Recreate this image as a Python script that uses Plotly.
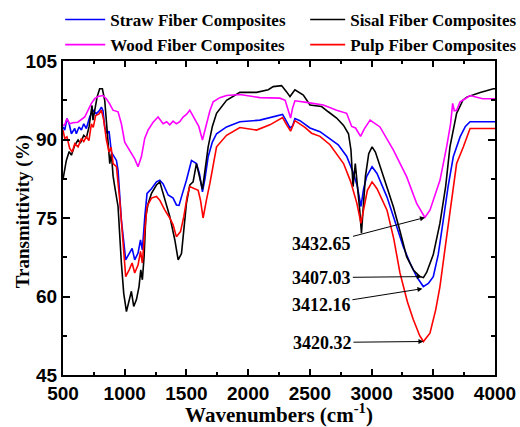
import plotly.graph_objects as go

# ---------------- data ----------------
straw_wn = [500, 514, 532, 550, 568, 595, 608, 630, 649, 668, 689, 716, 743, 770, 797, 811, 824, 838, 857, 873,
            892, 933, 946, 973, 1008, 1036, 1060, 1081, 1108, 1128, 1143, 1163, 1181, 1217, 1257, 1284, 1311, 1352,
            1392, 1419, 1440, 1468, 1500, 1541, 1581, 1605, 1630, 1650, 1676, 1710, 1744, 1825, 1933, 2095, 2203,
            2279, 2312, 2339, 2360, 2379, 2420, 2501, 2582, 2663, 2730, 2798, 2854, 2885, 2914, 2935, 2960, 3004,
            3044, 3125, 3180, 3257, 3310, 3365, 3419, 3460, 3500, 3540, 3581, 3620, 3662, 3717, 3760, 3798, 3900, 4000]
straw_t = [92.4, 91.8, 94.0, 93.0, 91.1, 92.1, 91.1, 92.4, 91.8, 93.0, 92.1, 94.3, 95.6, 94.9, 95.6, 96.2, 95.5, 92.4,
           91.1, 91.6, 87.6, 86.0, 84.1, 74.6, 67.0, 68.3, 69.2, 67.0, 68.3, 70.8, 68.9, 75.3, 79.7, 80.6, 81.9, 82.2,
           81.5, 79.4, 78.8, 77.5, 77.4, 79.7, 82.2, 86.0, 85.4, 83.5, 80.0, 82.5, 86.7, 89.5, 91.1, 92.4, 93.4, 93.7,
           94.4, 94.8, 93.4, 92.2, 92.6, 94.0, 93.6, 92.2, 91.5, 90.2, 89.0, 86.8, 83.5, 81.0, 77.2, 80.5, 82.9, 84.8,
           83.5, 79.0, 75.0, 69.5, 66.5, 63.8, 61.9, 62.5, 63.8, 68.0, 74.6, 81.0, 86.7, 90.5, 92.5, 93.4, 93.4, 93.4]

sisal_wn = [500, 527, 550, 568, 595, 622, 640, 668, 689, 711, 722, 735, 743, 757, 776, 797, 819, 838, 852, 866, 879,
            892, 906, 919, 946, 973, 992, 1014, 1036, 1054, 1073, 1095, 1116, 1130, 1143, 1157, 1171, 1190, 1217, 1257,
            1284, 1325, 1365, 1406, 1433, 1460, 1479, 1500, 1527, 1554, 1581, 1608, 1630, 1650, 1676, 1710, 1744, 1825,
            1933, 2068, 2163, 2203, 2271, 2312, 2339, 2379, 2447, 2501, 2595, 2649, 2717, 2773, 2813, 2833, 2850, 2868,
            2887, 2904, 2918, 2935, 2950, 2977, 3004, 3031, 3071, 3125, 3176, 3230, 3284, 3340, 3392, 3420, 3446, 3500,
            3554, 3600, 3635, 3689, 3740, 3771, 3880, 3987, 4000]
sisal_t = [82.4, 86.0, 87.7, 87.0, 88.9, 89.9, 89.3, 90.8, 90.3, 92.4, 94.3, 96.5, 93.7, 95.9, 98.1, 99.7, 99.7, 97.5,
           93.7, 89.9, 85.4, 87.3, 83.0, 81.0, 77.2, 66.4, 60.6, 57.1, 59.0, 61.0, 58.1, 59.4, 61.9, 65.1, 63.2, 67.6,
           75.3, 77.8, 79.7, 81.3, 81.9, 78.4, 75.3, 70.8, 67.0, 68.2, 72.7, 77.8, 81.3, 81.9, 85.4, 82.9, 80.5, 84.0,
           88.6, 92.5, 95.0, 97.5, 99.0, 99.0, 99.5, 100.1, 100.3, 99.1, 98.2, 99.5, 98.5, 96.6, 96.3, 95.3, 94.1, 92.7,
           91.1, 88.0, 81.0, 85.4, 81.0, 76.5, 72.1, 77.5, 82.9, 87.3, 88.6, 87.6, 84.8, 81.0, 77.2, 72.5, 67.6, 65.0,
           63.8, 63.6, 64.6, 68.0, 74.0, 81.0, 88.6, 95.0, 97.5, 98.1, 99.0, 99.7, 99.7]

wood_wn = [500, 514, 532, 554, 580, 620, 676, 703, 730, 757, 784, 824, 851, 878, 905, 946, 973, 1000, 1041, 1081, 1108,
           1135, 1162, 1189, 1230, 1270, 1311, 1340, 1365, 1392, 1419, 1446, 1473, 1500, 1527, 1568, 1600, 1630, 1662,
           1690, 1717, 1770, 1825, 1933, 2095, 2257, 2300, 2317, 2344, 2360, 2379, 2474, 2609, 2717, 2798, 2839, 2870,
           2911, 2940, 2988, 3068, 3176, 3284, 3365, 3432, 3473, 3554, 3608, 3640, 3657, 3670, 3689, 3700, 3717, 3740,
           3798, 3900, 4000]
wood_t = [92.7, 92.8, 94.0, 93.0, 93.2, 93.3, 94.3, 95.6, 96.9, 97.8, 98.2, 98.4, 97.8, 96.8, 95.6, 95.3, 93.0, 89.5,
          87.9, 86.3, 84.8, 86.7, 90.2, 91.8, 93.3, 94.3, 93.0, 93.4, 92.8, 93.5, 93.0, 93.4, 94.3, 94.8, 95.6, 94.0,
          92.5, 89.9, 93.0, 95.5, 97.2, 98.0, 98.4, 98.6, 98.0, 97.9, 97.5, 96.3, 94.1, 96.0, 97.4, 97.1, 96.6, 95.6,
          95.0, 92.5, 92.2, 90.6, 92.0, 93.7, 92.4, 88.0, 82.9, 77.8, 75.1, 76.5, 82.2, 88.6, 93.0, 96.9, 95.5, 95.6,
          96.2, 97.2, 97.5, 98.4, 97.8, 97.8]

pulp_wn = [500, 514, 532, 554, 575, 595, 622, 649, 668, 689, 710, 730, 745, 765, 792, 811, 830, 852, 873, 890, 906, 933,
           960, 987, 1008, 1036, 1060, 1081, 1108, 1128, 1143, 1163, 1181, 1217, 1257, 1284, 1325, 1365, 1392, 1419,
           1452, 1479, 1506, 1527, 1568, 1595, 1614, 1635, 1662, 1690, 1744, 1825, 1933, 2068, 2176, 2279, 2312, 2344,
           2379, 2460, 2514, 2582, 2663, 2730, 2773, 2830, 2881, 2914, 2940, 2966, 3004, 3044, 3125, 3180, 3230, 3290,
           3338, 3390, 3420, 3473, 3520, 3554, 3600, 3635, 3689, 3744, 3798, 3900, 4000]
pulp_t = [91.8, 90.2, 90.5, 88.3, 87.6, 89.2, 88.6, 90.2, 89.6, 90.5, 89.8, 93.0, 92.3, 94.6, 94.9, 95.6, 93.7, 89.9,
          87.6, 88.5, 85.4, 84.8, 78.4, 70.2, 63.8, 65.1, 66.4, 64.5, 66.0, 68.6, 66.4, 72.7, 77.2, 78.8, 79.1, 78.4,
          76.5, 75.0, 73.7, 71.4, 72.4, 75.3, 79.1, 81.0, 80.6, 80.3, 78.4, 75.0, 78.4, 81.6, 88.6, 90.8, 92.3, 91.8,
          92.8, 94.2, 92.8, 91.6, 93.6, 92.3, 91.2, 90.6, 89.0, 86.7, 85.4, 82.0, 77.8, 74.0, 77.5, 80.3, 81.9, 80.6,
          76.5, 71.0, 64.5, 59.0, 55.6, 52.5, 51.4, 53.0, 57.5, 61.9, 70.0, 75.9, 85.4, 88.6, 92.1, 92.1, 92.1]

peak_labels = ["3432.65", "3407.03", "3412.16", "3420.32"]
peak_wn = [3432.65, 3407.03, 3412.16, 3420.32]
peak_t = [75.1, 63.8, 61.5, 51.4]

series = [
    ("Straw Fiber Composites", straw_wn, straw_t, "#0000FF", "legend"),
    ("Sisal Fiber Composites", sisal_wn, sisal_t, "#000000", "legend2"),
    ("Wood Fiber Composites", wood_wn, wood_t, "#FF00FF", "legend"),
    ("Pulp Fiber Composites", pulp_wn, pulp_t, "#FF0000", "legend2"),
]

SERIF = "Liberation Serif, Times New Roman, serif"
SANS = "Liberation Sans, Arial, sans-serif"
NB = "\u00a0"

fig = go.Figure()
for name, x, y, c, lg in series:
    fig.add_trace(go.Scatter(x=x, y=y, mode="lines", name=name, legend=lg,
                             line=dict(color=c, width=1.6)))

# annotation text offsets (pixels from arrow head to label center)
offsets = [(-103, 27), (-100, 1), (-101, 16), (-101, 1)]
for lab, wx, ty, (ax, ay) in zip(peak_labels, peak_wn, peak_t, offsets):
    fig.add_annotation(x=wx, y=ty, text=lab, showarrow=True, ax=ax, ay=ay,
                       arrowhead=2, arrowsize=1, arrowwidth=1, arrowcolor="black",
                       font=dict(family=SERIF, size=18, color="black", weight="bold"))

# y-axis title (placed as paper-referenced text)
fig.add_annotation(text="Transmittivity (%)", xref="paper", yref="paper",
                   x=-0.0933, y=0.5207, xanchor="center", yanchor="middle",
                   textangle=-90, showarrow=False,
                   font=dict(family=SERIF, size=19, color="black", weight="bold"))

axis_common = dict(showline=True, linewidth=2, linecolor="black", mirror="ticks",
                   ticks="inside", tickwidth=1.5, tickcolor="black", showgrid=False,
                   zeroline=False,
                   tickfont=dict(family=SANS, size=19, color="black", weight="bold"))

fig.update_xaxes(range=[500, 4000], dtick=500, tick0=500, ticklen=6,
                 minor=dict(dtick=250, ticks="inside", ticklen=3, tickwidth=1.5, tickcolor="black"),
                 title=dict(text="Wavenumbers (cm<sup>-1</sup>)" + NB * 7, standoff=3,
                            font=dict(family=SERIF, size=21, color="black", weight="bold")),
                 **axis_common)
fig.update_yaxes(range=[45, 105], dtick=15, tick0=45, ticklen=7,
                 minor=dict(dtick=7.5, ticks="inside", ticklen=4, tickwidth=1.5, tickcolor="black"),
                 **axis_common)

legend_font = dict(family=SERIF, size=17, color="black", weight="bold")
fig.update_layout(
    width=520, height=427,
    margin=dict(l=63, r=25, t=61, b=52, autoexpand=False),
    paper_bgcolor="white", plot_bgcolor="white",
    showlegend=True,
    legend=dict(orientation="v", x=-0.0065, xanchor="left", y=1.1879, yanchor="top",
                traceorder="normal", font=legend_font, itemwidth=40,
                bgcolor="rgba(0,0,0,0)", tracegroupgap=0),
    legend2=dict(orientation="v", x=0.5606, xanchor="left", y=1.1879, yanchor="top",
                 traceorder="normal", font=legend_font, itemwidth=35,
                 bgcolor="rgba(0,0,0,0)", tracegroupgap=0),
)

fig.write_html("out.html")
